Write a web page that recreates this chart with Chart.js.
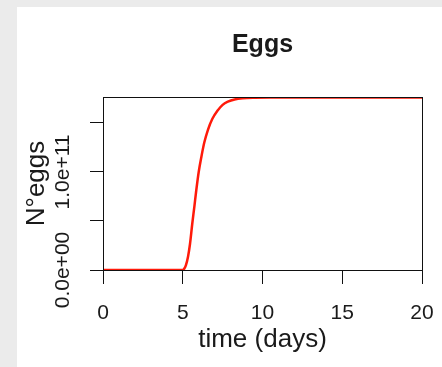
<!DOCTYPE html>
<html>
<head>
<meta charset="utf-8">
<script src="https://cdn.jsdelivr.net/npm/chart.js@4"></script>
<style>
  body { margin: 0; background: #ebebeb; width: 442px; height: 367px; overflow: hidden; }
  #chart { position: absolute; left: 17px; top: 7px; background: #fff; }
</style>
</head>
<body>
<canvas id="chart" width="425" height="360"></canvas>
<script>
// time (days) and number of eggs
const days = [0, 2, 4, 5, 5.1, 5.2, 5.33, 5.45, 5.6, 5.73, 5.85, 6, 6.17, 6.35, 6.58, 6.85, 7.2, 7.5, 7.83, 8.25, 8.75, 9.5, 10.5, 13, 16, 20];
const eggs = [0, 0, 0, 0, 0.15e10, 0.5e10, 1.36e10, 2.6e10, 4.77e10, 6.5e10, 8.16e10, 1.0e11, 1.156e11, 1.3e11, 1.43e11, 1.54e11, 1.63e11, 1.685e11, 1.717e11, 1.74e11, 1.752e11, 1.758e11, 1.76e11, 1.76e11, 1.76e11, 1.76e11];
const xTicks = [0, 5, 10, 15, 20];
const yTicks = [0, 5e10, 1e11, 1.5e11];

const fontFamily = "'Liberation Sans', Arial, Helvetica, sans-serif";
const ink = "#1a1a1a";

// R style exponent labels like 1.0e+11
function sci(v) {
    const parts = v.toExponential(1).split("e");
    const sign = parts[1][0];
    let exp = parts[1].slice(1);
    if (exp.length < 2) exp = "0" + exp;
    return parts[0] + "e" + sign + exp;
}

// box around the plot region
const boxPlugin = {
    id: "box",
    afterDraw(chart) {
        const a = chart.chartArea;
        const ctx = chart.ctx;
        ctx.save();
        ctx.strokeStyle = "#111";
        ctx.lineWidth = 1;
        ctx.strokeRect(Math.round(a.left) + 0.5, Math.round(a.top) + 0.5, Math.round(a.right - a.left), Math.round(a.bottom - a.top));
        ctx.restore();
    }
};

const ctx = document.getElementById("chart").getContext("2d");
new Chart(ctx, {
    type: "line",
    data: {
        datasets: [{
            data: days.map((d, i) => ({ x: d, y: eggs[i] })),
            borderColor: "#ff1a0a",
            borderWidth: 2.5,
            pointRadius: 0,
            cubicInterpolationMode: "monotone",
            fill: false
        }]
    },
    options: {
        responsive: false,
        animation: false,
        devicePixelRatio: 1,
        layout: { padding: { top: 0, right: 20, bottom: 0, left: 0 } },
        plugins: {
            legend: { display: false },
            tooltip: { enabled: false },
            title: {
                display: true,
                text: "Eggs",
                fullSize: false,
                color: ink,
                font: { family: fontFamily, size: 25, weight: "bold" },
                padding: { top: 23, bottom: 37 }
            }
        },
        scales: {
            x: {
                type: "linear",
                min: 0,
                max: 20,
                afterBuildTicks: s => { s.ticks = xTicks.map(v => ({ value: v })); },
                afterFit: s => { s.height = 97; s.paddingLeft = 0; s.paddingRight = 0; },
                grid: { drawOnChartArea: false, drawTicks: true, tickLength: 14, color: "#111", lineWidth: 1 },
                border: { display: true, color: "#111", width: 1 },
                ticks: {
                    color: ink,
                    font: { family: fontFamily, size: 21 },
                    padding: 17,
                    maxRotation: 0,
                    autoSkip: false
                },
                title: {
                    display: true,
                    text: "time (days)",
                    color: ink,
                    font: { family: fontFamily, size: 26 },
                    padding: { top: 0, bottom: 12 }
                }
            },
            y: {
                type: "linear",
                min: 0,
                max: 1.765e11,
                afterBuildTicks: s => { s.ticks = yTicks.map(v => ({ value: v })); },
                afterFit: s => { s.width = 86; s.paddingTop = 0; s.paddingBottom = 0; },
                grid: { drawOnChartArea: false, drawTicks: true, tickLength: 13, color: "#111", lineWidth: 1 },
                border: { display: true, color: "#111", width: 1 },
                ticks: {
                    color: ink,
                    font: { family: fontFamily, size: 21 },
                    minRotation: 90,
                    maxRotation: 90,
                    crossAlign: "center",
                    padding: -11,
                    autoSkip: false,
                    callback: (v, i) => (i % 2 === 0 ? sci(v) : "")
                },
                title: {
                    display: true,
                    text: "N°eggs",
                    color: ink,
                    font: { family: fontFamily, size: 26 },
                    padding: { top: 4, bottom: 0 }
                }
            }
        }
    },
    plugins: [boxPlugin]
});
</script>
</body>
</html>
